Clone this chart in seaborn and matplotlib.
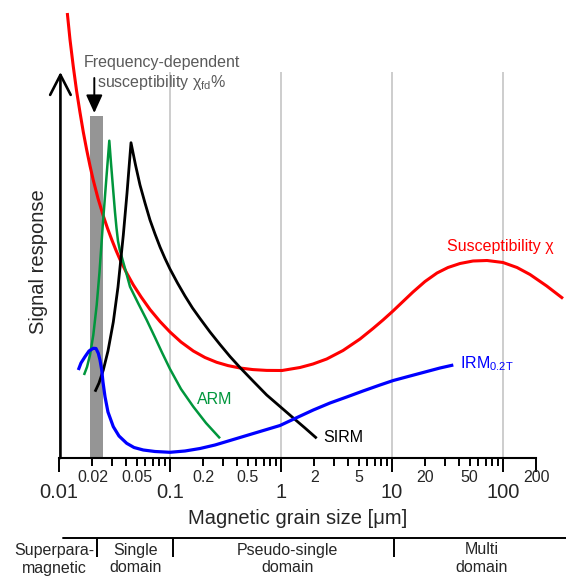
import matplotlib
matplotlib.use("Agg")
import matplotlib.pyplot as plt
from matplotlib.ticker import FixedLocator, FixedFormatter
import pandas as pd
import seaborn as sns

# ---- data: grain size (um) vs. signal response (arbitrary units) ----
chi_size = [0.01188, 0.01256, 0.01345, 0.01438, 0.01546, 0.01655, 0.01777, 0.01902,
            0.02037, 0.02246, 0.02507, 0.02735, 0.02986, 0.03262, 0.03544, 0.04015,
            0.04670, 0.05479, 0.06604, 0.08128, 0.1000, 0.1256, 0.1622, 0.2066,
            0.2634, 0.3331, 0.4272, 0.5594, 0.7432, 1.021, 1.483, 1.942, 2.581,
            3.620, 5.150, 6.743, 8.297, 10.21, 12.56, 15.46, 19.83, 25.44, 31.95,
            41.00, 53.7, 71.8, 100.0, 133.7, 175.1, 247.6, 347.1]
chi_signal = [445, 418.5, 391.4, 367.6, 345.5, 326, 308, 292.2,
              277.7, 259.6, 242.1, 229.7, 218.4, 207.7, 198.5, 186.2,
              173.1, 161.2, 148.5, 136.5, 126, 116, 107, 100.5,
              95.7, 92.4, 90, 88.4, 87.6, 87.5, 90.5, 94, 99,
              107.5, 119, 129.5, 138, 147, 156.5, 166, 176.5, 185, 190.5,
              194.5, 197, 197.5, 195.5, 190.5, 183.5, 172, 159.5]

arm_size = [0.01679, 0.01788, 0.01902, 0.02037, 0.02186, 0.02317, 0.02476, 0.02651,
            0.02839, 0.02940, 0.03066, 0.03194, 0.03296, 0.03400, 0.03529, 0.03672,
            0.04015, 0.04362, 0.05152, 0.06166, 0.07328, 0.08471, 0.1000, 0.1256,
            0.1622, 0.2110, 0.2821]
arm_signal = [83, 91, 103, 123, 153, 186, 232, 275,
              317.3, 295, 270, 246, 230, 217, 208, 201.3,
              186, 171.3, 155, 138, 120.5, 105.5, 89, 69,
              51.3, 35, 19.7]

sirm_size = [0.02110, 0.02293, 0.02507, 0.02762, 0.03085, 0.03400, 0.03797, 0.04100,
             0.04453, 0.04890, 0.05366, 0.05954, 0.06604, 0.07328, 0.08128, 0.09016,
             0.1000, 0.1168, 0.1365, 0.1595, 0.1864, 0.2293, 0.2821, 0.3471, 0.4272,
             0.5594, 0.7432, 0.9795, 1.291, 1.645, 2.097]
sirm_signal = [66.3, 75, 88, 107, 136, 171, 223, 265,
               315.3, 293, 273, 255, 238, 224, 211, 199.5,
               189, 175, 162, 150, 139.5, 126, 113.5, 101.5, 90.5,
               77, 63, 51.5, 40, 30, 19.7]

irm_size = [0.01493, 0.01578, 0.01715, 0.01863, 0.02037, 0.02154, 0.02260, 0.02340,
            0.02426, 0.02490, 0.02597, 0.02762, 0.03085, 0.03471, 0.04073, 0.04742,
            0.05747, 0.07328, 0.1000, 0.1365, 0.1864, 0.2543, 0.3471, 0.5254, 0.7178,
            0.9795, 1.365, 1.954, 2.763, 3.908, 5.479, 7.795, 10.27, 14.53, 19.83,
            27.06, 35.67]
irm_signal = [88, 95, 101.3, 107, 109.7, 109.5, 104.7, 98,
              88, 76, 61.3, 46, 31.3, 22, 14.7, 10.5,
              8, 6.5, 5.7, 7, 9.5, 13, 17.5, 23.5, 28,
              32.5, 40, 48, 55, 61, 67, 73, 77.5, 82, 86,
              90, 93]

# frequency-dependent susceptibility band
fd_left, fd_right, fd_height = 0.019, 0.0248, 342

major_ticks = [0.01, 0.1, 1, 10, 100]
major_labels = ["0.01", "0.1", "1", "10", "100"]
minor_ticks = [0.02, 0.03, 0.04, 0.05, 0.06, 0.07, 0.08, 0.09,
               0.2, 0.3, 0.4, 0.5, 0.6, 0.7, 0.8, 0.9,
               2, 3, 4, 5, 6, 7, 8, 9,
               20, 30, 40, 50, 60, 70, 80, 90, 200]
minor_labels = ["0.02", "", "", "0.05", "", "", "", "",
                "0.2", "", "", "0.5", "", "", "", "",
                "2", "", "", "5", "", "", "", "",
                "20", "", "", "50", "", "", "", "", "200"]
grid_x = [0.1, 1, 10, 100]

domain_edges = [0.022, 0.106, 10.5]
domain_names = [("Superpara-", "magnetic"), ("Single", "domain"),
                ("Pseudo-single", "domain"), ("Multi", "domain")]
domain_centers = [0.0091, 0.0494, 1.15, 64.7]

sns.set_theme(style="white")
plt.rcParams["font.family"] = ["Liberation Sans", "DejaVu Sans"]
plt.rcParams["mathtext.fontset"] = "custom"
plt.rcParams["mathtext.rm"] = "Liberation Sans"
plt.rcParams["mathtext.it"] = "Liberation Sans:italic"

fig = plt.figure(figsize=(5.66, 5.76), dpi=100)
ax = fig.add_axes([0, 0, 1, 1])
ax.set_xscale("log")
ax.set_xlim(10 ** (-2 - 59 / 111), 10 ** (-2 + 507 / 111))
ax.set_ylim(-118, 458)
ax.patch.set_alpha(0)

# grid lines at the decades
ax.vlines(grid_x, 0, 386, color="#c0c0c0", lw=1.1, zorder=0)

# chi_fd band
ax.bar([fd_left], [fd_height], width=[fd_right - fd_left], align="edge",
       color="#959595", edgecolor="none", zorder=1)

curves = [
    (chi_size, chi_signal, "#ff0000", 2.2),
    (arm_size, arm_signal, "#00963c", 1.8),
    (sirm_size, sirm_signal, "#000000", 2.0),
    (irm_size, irm_signal, "#0000ff", 2.3),
]
for xs, ys, col, lw in curves:
    df = pd.DataFrame({"size": xs, "signal": ys})
    sns.lineplot(data=df, x="size", y="signal", ax=ax, color=col, lw=lw,
                 sort=False, estimator=None, zorder=3,
                 solid_joinstyle="round", solid_capstyle="butt")

# curve labels
lab_fs = 11.5
ax.text(31.3, 211, "Susceptibility χ", color="#ff0000", fontsize=lab_fs, va="center")
ax.text(0.175, 58, "ARM", color="#00963c", fontsize=lab_fs, va="center")
ax.text(2.39, 20, "SIRM", color="black", fontsize=lab_fs, va="center")
ax.text(41.0, 94, r"IRM$_{\mathregular{0.2T}}$", color="#0000ff", fontsize=lab_fs, va="center")

# chi_fd annotation
ax.text(0.0848, 396, "Frequency-dependent", color="#5a5a5a", fontsize=lab_fs,
        ha="center", va="center")
ax.text(0.0848, 375, r"susceptibility χ$_{\mathregular{fd}}$%", color="#5a5a5a",
        fontsize=lab_fs, ha="center", va="center")
ax.annotate("", xy=(0.0208, 345), xytext=(0.0208, 380),
            arrowprops=dict(arrowstyle="-|>,head_length=0.55,head_width=0.25",
                            mutation_scale=20, color="black", lw=1.4,
                            shrinkA=0, shrinkB=0))

# signal axis arrow
ax.annotate("", xy=(0.0103, 386), xytext=(0.0103, 0),
            arrowprops=dict(arrowstyle="->,head_length=0.72,head_width=0.37",
                            mutation_scale=20, color="black", lw=1.9,
                            shrinkA=0, shrinkB=0))
ax.text(0.00653, 196, "Signal response", rotation=90, fontsize=14.5,
        ha="center", va="center")

# grain size axis
for side in ["left", "right", "top"]:
    ax.spines[side].set_visible(False)
ax.spines["bottom"].set_position(("data", 0))
ax.spines["bottom"].set_bounds(0.01, 200)
ax.spines["bottom"].set_linewidth(1.5)
ax.spines["bottom"].set_color("black")
ax.yaxis.set_visible(False)
ax.set_xlabel("")
ax.set_ylabel("")
ax.xaxis.set_major_locator(FixedLocator(major_ticks))
ax.xaxis.set_major_formatter(FixedFormatter(major_labels))
ax.xaxis.set_minor_locator(FixedLocator(minor_ticks))
ax.xaxis.set_minor_formatter(FixedFormatter(minor_labels))
ax.tick_params(axis="x", which="major", direction="out", length=10, width=1.4,
               color="black", labelsize=14.5, pad=8, bottom=True)
ax.tick_params(axis="x", which="minor", direction="out", length=5.5, width=1.4,
               color="black", labelsize=11.5, pad=3.5, bottom=True)
for t, v in zip(ax.xaxis.get_minor_ticks(), minor_ticks):
    if v == 200:
        t.tick1line.set_markersize(10)

ax.text(1.42, -60, "Magnetic grain size [μm]", fontsize=14.5, ha="center", va="center")

# domain state bracket
ax.plot([0.0108, ax.get_xlim()[1]], [-80, -80], color="black", lw=1.4, clip_on=False)
ax.vlines(domain_edges, -99, -80, color="black", lw=1.4)
for (l1, l2), xc in zip(domain_names, domain_centers):
    ax.text(xc, -92, l1, fontsize=11.5, ha="center", va="center")
    ax.text(xc, -110, l2, fontsize=11.5, ha="center", va="center")

fig.savefig("out.png", dpi=100)
